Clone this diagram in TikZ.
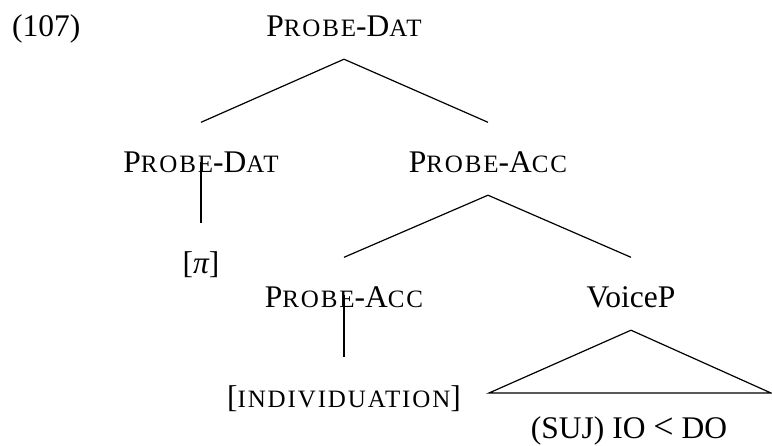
\documentclass[tikz,border=0pt]{standalone}
\usepackage{fontspec}
\setmainfont{Liberation Serif}
\newfontfamily\scfont[LetterSpace=7.5]{Liberation Serif}
\usepackage{tikz}
\usetikzlibrary{positioning}
% fake small caps: spaced capitals set at a smaller size
\newcommand{\smallcap}[1]{{\scfont\fontsize{25}{30}\selectfont #1}}
\tikzset{
  cat/.style={inner sep=0pt,anchor=base,text height=49.5pt,text depth=23pt,font=\fontsize{31.5}{38}\selectfont},
  branch/.style={line width=1.2pt}
}

\begin{document}
\begin{tikzpicture}[x=1pt,y=-1pt]
  \useasboundingbox (0,0) rectangle (772,445);

  % Example number and root
  \node[cat,anchor=base west] (exnum) at (12,36) {(107)};
  \node[cat] (root) at (344,36) {P\smallcap{ROBE}-D\smallcap{AT}};

  % Probes
  \node[cat] (dat) at (201,172) {P\smallcap{ROBE}-D\smallcap{AT}};
  \node[cat] (acc) at (488,172) {P\smallcap{ROBE}-A\smallcap{CC}};
  \node[cat] (pi) at (201,273) {[{\itshape π}]};
  \node[cat] (acclow) at (344,307) {P\smallcap{ROBE}-A\smallcap{CC}};
  \node[cat] (voice) at (631,307) {VoiceP};
  \node[cat] (indiv) at (344,407) {[\smallcap{INDIVIDUATION}]};
  \node[cat] (suj) at (629,438) {(SUJ) IO {\fontsize{36}{38}\selectfont<} DO};

  % Branches
  \draw[branch] (root.south) -- (dat.north);
  \draw[branch] (root.south) -- (acc.north);
  \draw[branch] ([yshift=10pt]dat.base) -- (pi.north);
  \draw[branch] (acc.south) -- (acclow.north);
  \draw[branch] (acc.south) -- (voice.north);
  \draw[branch] ([yshift=12pt]acclow.base) -- (indiv.north);

  % Roof over VoiceP
  \coordinate (roofL) at (489,393);
  \coordinate (roofR) at (771,393);
  \draw[branch] (voice.south) -- (roofL) -- (roofR) -- cycle;
\end{tikzpicture}
\end{document}
